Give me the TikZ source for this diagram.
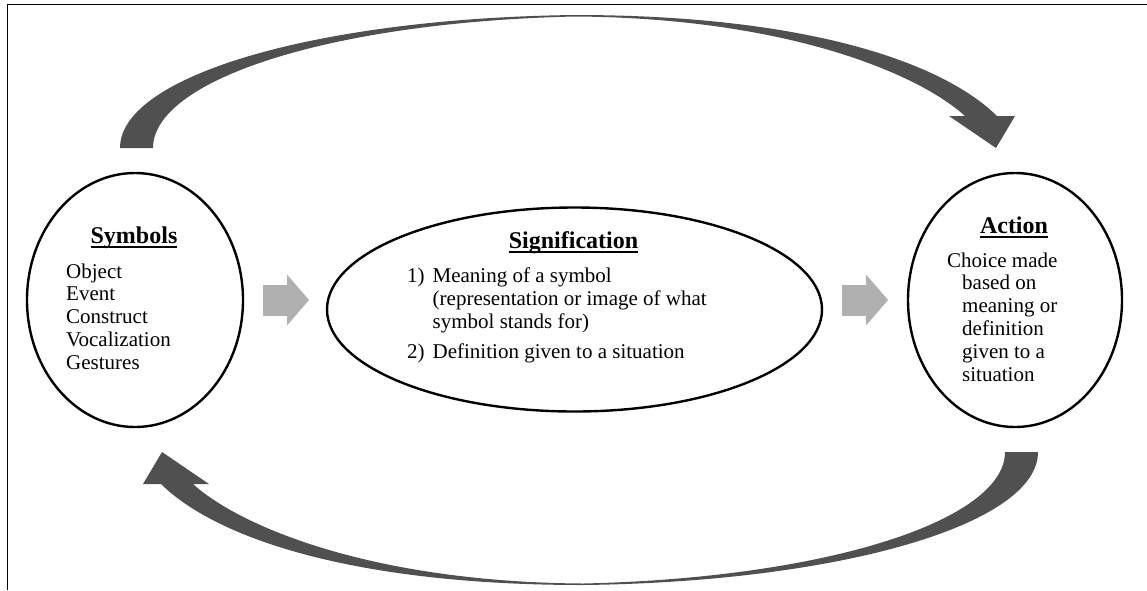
\documentclass[tikz,border=0pt]{standalone}
\usepackage{fontspec}
\setmainfont{Liberation Serif}
\usepackage{tikz}
\usetikzlibrary{positioning,calc,arrows.meta,shapes.geometric}
\definecolor{arrowgray}{RGB}{176,176,176}
\definecolor{arcgray}{RGB}{80,80,80}
\newsavebox{\headbox}
\newcommand{\headline}[1]{\sbox{\headbox}{#1}\rlap{\rule[-5pt]{\wd\headbox}{2pt}}\usebox{\headbox}}
\tikzset{
  loopfont/.style={font=\fontsize{21}{22.8}\selectfont},
  loopellipse/.style={draw, ellipse, line width=2.4pt, inner sep=0pt, outer sep=0pt},
  looptitle/.style={font=\fontsize{24}{28}\selectfont\bfseries, anchor=base, inner sep=0pt},
  looptext/.style={loopfont, anchor=base west, inner sep=0pt},
  looparrow/.style={draw=arrowgray, line width=31pt, -{Triangle[length=22pt, width=51pt, line width=0pt]}},
  loopfeedback/.style={fill=arcgray},
}

\begin{document}
\begin{tikzpicture}[x=1pt, y=-1pt]
  \useasboundingbox (0,0) rectangle (1147,590);
  % frame
  \draw[line width=1.4pt] (1147,4.3) -- (7.5,4.3) -- (7.5,590);

  % the three stages
  \node[loopellipse, minimum width=216pt, minimum height=254pt] (sym) at (135,300) {};
  \node[loopellipse, right=84pt of sym, yshift=-9.5pt, minimum width=495pt, minimum height=204pt] (sig) {};
  \node[loopellipse, right=86pt of sig, yshift=9.5pt, minimum width=214pt, minimum height=254pt] (act) {};

  % titles
  \node[looptitle] (symT) at ([xshift=-1pt, yshift=57pt]sym.center) {\headline{Symbols}};
  \node[looptitle] (sigT) at ([xshift=-1pt, yshift=61.5pt]sig.center) {\headline{Signification}};
  \node[looptitle] (actT) at ([xshift=-1pt, yshift=67pt]act.center) {\headline{Action}};

  % contents
  \node[looptext] (symL) at ([xshift=-69pt, yshift=22pt]sym.center)
    {\begin{tabular}[t]{@{}l@{}}Object\\Event\\Construct\\Vocalization\\Gestures\end{tabular}};
  \node[looptext] (sigL) at ([xshift=-167.5pt, yshift=26.8pt]sig.center)
    {\begin{tabular}[t]{@{}l@{\hspace{8pt}}l@{}}
      1) & Meaning of a symbol\\
         & (representation or image of what\\
         & symbol stands for)\\[7pt]
      2) & Definition given to a situation
    \end{tabular}};
  \node[looptext] (actL) at ([xshift=-68pt, yshift=33pt]act.center)
    {\begin{tabular}[t]{@{}l@{}}Choice made\\
      \hspace{15pt}based on\\
      \hspace{15pt}meaning or\\
      \hspace{15pt}definition\\
      \hspace{15pt}given to a\\
      \hspace{15pt}situation\end{tabular}};

  % block arrows between stages
  \draw[looparrow, shorten <=20pt, shorten >=18pt] (sym.east) -- (sym.east -| sig.west);
  \draw[looparrow, shorten <=20pt, shorten >=20pt] (act.west -| sig.east) -- (act.west);

  % feedback arcs
  \fill[loopfeedback] (120,148) .. controls (120,75) and (320,18) .. (575,15)
    .. controls (800,15) and (940,60) .. (997,116) -- (1015,116) -- (996,148) -- (949,116) -- (965,116)
    .. controls (920,75) and (790,18) .. (575,16.5)
    .. controls (330,22) and (153,80) .. (153,148) -- cycle;
  \begin{scope}[rotate around={180:(579,300)}]
    \fill[loopfeedback] (120,148) .. controls (120,75) and (320,18) .. (575,15)
      .. controls (800,15) and (940,60) .. (997,116) -- (1015,116) -- (996,148) -- (949,116) -- (965,116)
      .. controls (920,75) and (790,18) .. (575,16.5)
      .. controls (330,22) and (153,80) .. (153,148) -- cycle;
  \end{scope}
\end{tikzpicture}
\end{document}
